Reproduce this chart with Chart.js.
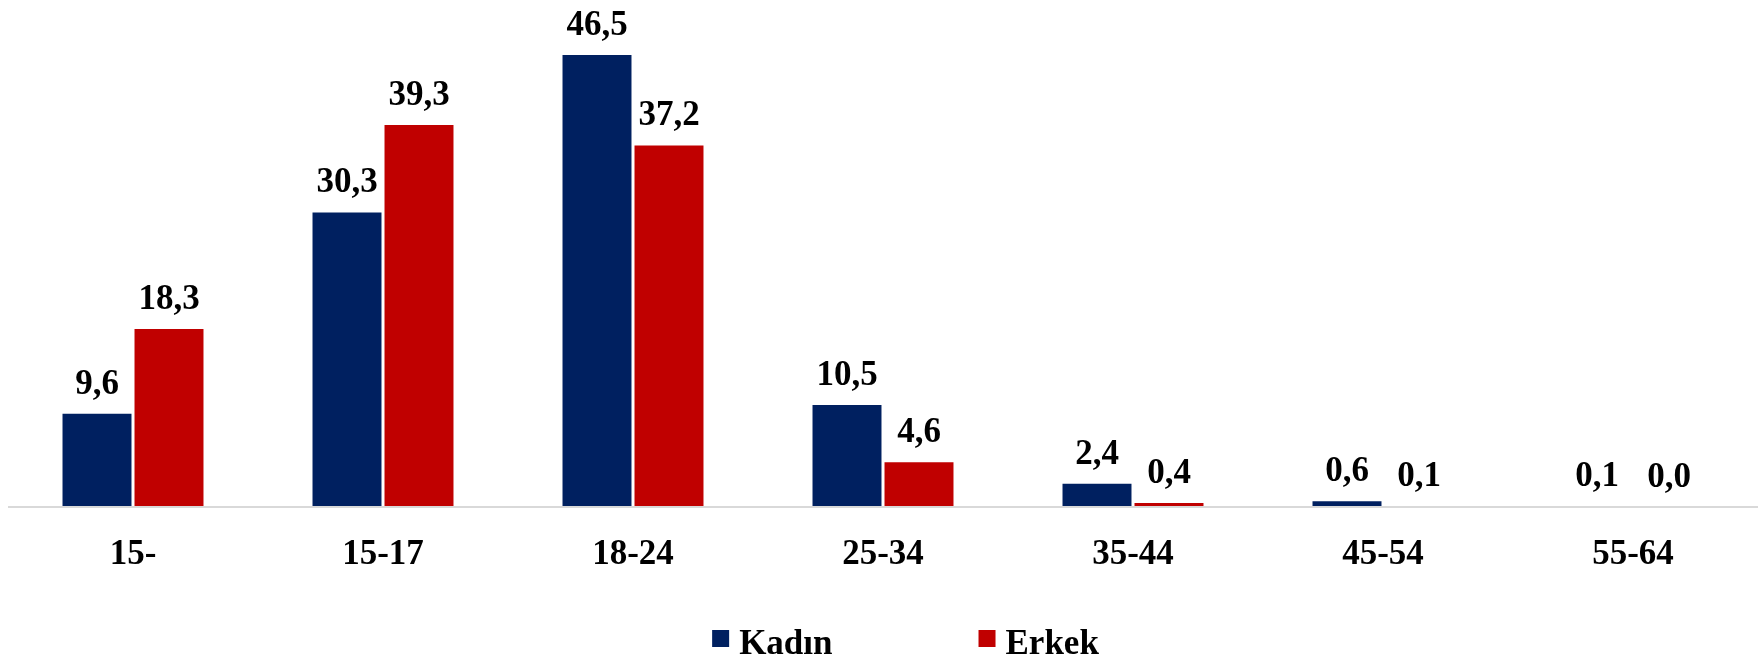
<!DOCTYPE html>
<html>
<head>
<meta charset="utf-8">
<script src="https://cdn.jsdelivr.net/npm/chart.js@4/dist/chart.umd.min.js"></script>
<style>
  html, body { margin: 0; padding: 0; background: #fff; }
  #wrap { width: 1763px; height: 663px; }
</style>
</head>
<body>
<div id="wrap"><canvas id="canvas"></canvas></div>
<script>
/* Data */
const ageGroups = ["15-", "15-17", "18-24", "25-34", "35-44", "45-54", "55-64"];
const kadin = [9.6, 30.3, 46.5, 10.5, 2.4, 0.6, 0.1];
const erkek = [18.3, 39.3, 37.2, 4.6, 0.4, 0.1, 0.0];
const seriesNames = ["Kadın", "Erkek"];
const seriesColors = ["#002060", "#C00000"];

const fontFamily = "'Liberation Serif', 'Times New Roman', serif";

/* Axis line on top of the bars + value labels above each bar */
const barLabels = {
  id: "barLabels",
  afterDatasetsDraw(chart) {
    const ctx = chart.ctx;
    const area = chart.chartArea;
    const y0 = chart.scales.y.getPixelForValue(0);
    ctx.save();
    ctx.strokeStyle = "#d9d9d9";
    ctx.lineWidth = 2;
    ctx.beginPath();
    ctx.moveTo(area.left, y0);
    ctx.lineTo(area.right, y0);
    ctx.stroke();

    ctx.font = "bold 35px " + fontFamily;
    ctx.fillStyle = "#000";
    ctx.textAlign = "center";
    ctx.textBaseline = "alphabetic";
    chart.data.datasets.forEach((ds, i) => {
      chart.getDatasetMeta(i).data.forEach((bar, j) => {
        let txt = ds.data[j].toFixed(1).replace(".", ",");
        ctx.fillText(txt, bar.x, bar.y - 20);
      });
    });
    ctx.restore();
  },
};

/* Legend at the bottom */
const bottomLegend = {
  id: "bottomLegend",
  afterDraw(chart) {
    const ctx = chart.ctx;
    ctx.save();
    ctx.font = "bold 35px " + fontFamily;
    ctx.textBaseline = "alphabetic";
    const box = 17;
    const gap = 10;
    const spacing = 146;
    let widths = chart.data.datasets.map((ds) => box + gap + ctx.measureText(ds.label).width);
    let total = widths.reduce((a, b) => a + b, 0) + spacing;
    let x = chart.width / 2 + 24 - total / 2;
    chart.data.datasets.forEach((ds, i) => {
      ctx.fillStyle = ds.backgroundColor;
      ctx.fillRect(x, 630, box, box);
      ctx.fillStyle = "#000";
      ctx.fillText(ds.label, x + box + gap, 654);
      x += widths[i] + spacing;
    });
    ctx.restore();
  },
};

const ctx = document.getElementById("canvas").getContext("2d");
window.myChart = new Chart(ctx, {
  type: "bar",
  data: {
    labels: ageGroups,
    datasets: [
      {
        label: seriesNames[0],
        data: kadin,
        backgroundColor: seriesColors[0],
        barPercentage: 0.958,
        categoryPercentage: 0.576,
      },
      {
        label: seriesNames[1],
        data: erkek,
        backgroundColor: seriesColors[1],
        barPercentage: 0.958,
        categoryPercentage: 0.576,
      },
    ],
  },
  options: {
    responsive: true,
    maintainAspectRatio: false,
    animation: false,
    layout: {
      padding: { top: 21, left: 8, right: 5, bottom: 60 },
    },
    plugins: {
      legend: { display: false },
      tooltip: { enabled: false },
    },
    scales: {
      x: {
        grid: { display: false, drawTicks: false },
        border: { display: false },
        ticks: {
          color: "#000",
          padding: 27,
          font: { family: fontFamily, size: 35, weight: "bold" },
        },
      },
      y: {
        display: false,
        beginAtZero: true,
        min: 0,
        max: 50,
      },
    },
  },
  plugins: [barLabels, bottomLegend],
});
</script>
</body>
</html>
